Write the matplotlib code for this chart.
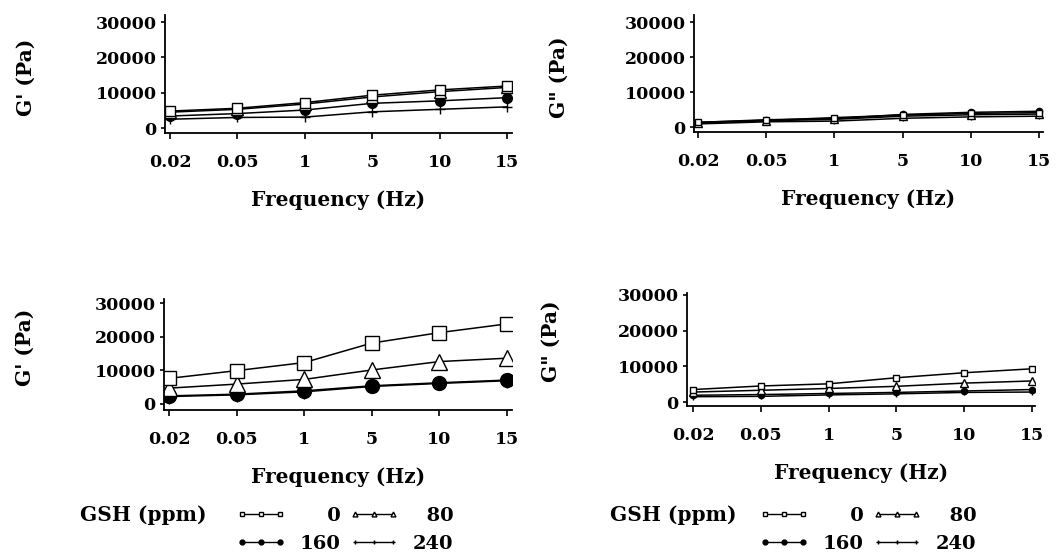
import matplotlib
matplotlib.use("Agg")
import matplotlib.pyplot as plt
from matplotlib.lines import Line2D

plt.rcParams['font.family'] = ['DejaVu Serif']
plt.rcParams['font.weight'] = 'bold'
plt.rcParams['font.size'] = 12

freq_labels = ['0.02', '0.05', '1', '5', '10', '15']
gsh_levels = ['0', '80', '160', '240']

# storage modulus G' and loss modulus G'' (Pa), upper row
g1_top = {
    '0':   [4800, 5600, 7200, 9300, 10800, 11900],
    '80':  [4500, 5300, 6800, 8800, 10300, 11500],
    '160': [3400, 4100, 5100, 7000, 7700, 8600],
    '240': [2500, 3000, 3100, 4600, 5300, 6000],
}
g2_top = {
    '0':   [1500, 2000, 2800, 3500, 4000, 4200],
    '80':  [1300, 1900, 2300, 3200, 3600, 3800],
    '160': [1400, 2200, 2500, 3700, 4300, 4600],
    '240': [1000, 1600, 1800, 2600, 3000, 3200],
}
# lower row
g1_bot = {
    '0':   [7600, 9900, 12300, 18100, 21200, 23800],
    '80':  [4700, 5900, 7300, 10100, 12600, 13600],
    '160': [2400, 2900, 3900, 5400, 6300, 7100],
    '240': [2200, 2700, 3600, 5200, 6100, 6900],
}
g2_bot = {
    '0':   [3500, 4500, 5100, 6800, 8200, 9300],
    '80':  [2800, 3300, 3800, 4400, 5300, 5900],
    '160': [1900, 2100, 2400, 2700, 3100, 3500],
    '240': [1500, 1600, 2000, 2300, 2700, 2800],
}

styles = {
    '0':   dict(marker='s', mfc='white', mec='black'),
    '80':  dict(marker='^', mfc='white', mec='black'),
    '160': dict(marker='o', mfc='black', mec='black'),
    '240': dict(marker='+', mfc='black', mec='black'),
}

W, H = 1057, 555
fig = plt.figure(figsize=(W / 100, H / 100), dpi=100)


def px_axes(x0, x1, y0, y1):
    # pixel box (left, right, top, bottom) -> figure fraction
    return fig.add_axes([x0 / W, 1 - y1 / H, (x1 - x0) / W, (y1 - y0) / H])


def panel(ax, data, ylabel, ylim, xlim, msize, lw=1.1):
    x = list(range(len(freq_labels)))
    for g in ['240', '160', '80', '0']:
        st = styles[g]
        ms = msize * (1.15 if g == '80' else 1.0)
        ax.plot(x, data[g], color='black', lw=lw, ms=ms, mew=1.0, **st)
    ax.set_xlim(*xlim)
    ax.set_ylim(*ylim)
    ax.set_xticks(x)
    ax.set_xticklabels(freq_labels)
    ax.set_yticks([0, 10000, 20000, 30000])
    ax.spines['top'].set_visible(False)
    ax.spines['right'].set_visible(False)
    for s in ['left', 'bottom']:
        ax.spines[s].set_linewidth(1.3)
    ax.tick_params(axis='x', direction='out', length=4, width=1.2, pad=11, labelsize=12.5)
    ax.tick_params(axis='y', direction='out', length=3, width=1.2, pad=3, labelsize=12.5)
    ax.set_xlabel('Frequency (Hz)', fontsize=14.5, fontweight='bold', labelpad=14)
    ax.set_ylabel(ylabel, fontsize=14.5, fontweight='bold')


ax1 = px_axes(165, 512, 15, 133)
panel(ax1, g1_top, "G' (Pa)", (-1400, 32000), (-0.074, 5.074), 7)
ax1.yaxis.set_label_coords(-0.372, 0.47)

ax2 = px_axes(694, 1043, 15, 132)
panel(ax2, g2_top, 'G" (Pa)', (-1300, 32000), (-0.06, 5.06), 4.5)
ax2.yaxis.set_label_coords(-0.358, 0.47)

ax3 = px_axes(164, 512, 299, 410)
panel(ax3, g1_bot, "G' (Pa)", (-1800, 31200), (-0.074, 5.074), 10)
ax3.yaxis.set_label_coords(-0.372, 0.56)

ax4 = px_axes(687, 1035, 293, 406)
panel(ax4, g2_bot, 'G" (Pa)', (-1100, 30500), (-0.09, 5.045), 4.5)
ax4.yaxis.set_label_coords(-0.362, 0.57)


def gsh_legend(ax, x_text, x_leg, y):
    fig.text(x_text / W, 1 - y / H, 'GSH (ppm)', fontsize=14.5, va='center', ha='left')
    handles, labels = [], []
    # legend fills column by column, so order is 0, 160 | 80, 240
    for g in ['0', '160', '80', '240']:
        st = styles[g]
        handles.append(Line2D([], [], color='black', lw=1.0, ms=3.5, mew=1.0, **st))
        labels.append(g.rjust(3, '\u2007'))
    ax.legend(handles, labels, ncol=2, numpoints=3, frameon=False,
              loc='upper left', bbox_to_anchor=(x_leg / W, 1 - (y - 8) / H),
              bbox_transform=fig.transFigure, fontsize=14,
              handlelength=2.55, handletextpad=0.72, columnspacing=0.46,
              labelspacing=0.5, borderpad=0, borderaxespad=0)


gsh_legend(ax3, 80, 236, 515)
gsh_legend(ax4, 610, 759, 515)

fig.savefig('out.png', dpi=100)
